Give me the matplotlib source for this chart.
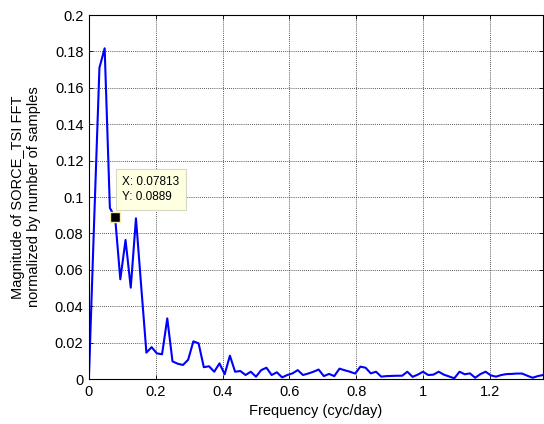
import numpy as np
import matplotlib
matplotlib.use('Agg')
from matplotlib import pyplot as plt

plt.rcParams['font.family'] = ['Liberation Sans', 'DejaVu Sans']

# frequency step of the FFT (cyc/day)
df = 1.0 / 64
# magnitude values, one per frequency bin
mag = [0.002, 0.088, 0.171, 0.1817, 0.094, 0.0889, 0.0548, 0.0764, 0.0502, 0.0883,
       0.051, 0.0145, 0.0175, 0.0141, 0.0136, 0.0333, 0.0097, 0.0084, 0.0077, 0.0106,
       0.0207, 0.0196, 0.0065, 0.007, 0.004, 0.0086, 0.0026, 0.0128, 0.004, 0.0044,
       0.0022, 0.004, 0.0013, 0.0049, 0.0062, 0.0022, 0.0037, 0.0009, 0.0022, 0.0031,
       0.0049, 0.0022, 0.003, 0.004, 0.0052, 0.0016, 0.0028, 0.0016, 0.0057, 0.0048,
       0.004, 0.003, 0.0068, 0.0062, 0.0031, 0.004, 0.0013, 0.0016, 0.0017, 0.0018,
       0.0018, 0.004, 0.0012, 0.0024, 0.004, 0.0022, 0.0024, 0.004, 0.0024, 0.0014,
       0.0004, 0.004, 0.0026, 0.0031, 0.0007, 0.0027, 0.004, 0.002, 0.0013, 0.0022,
       0.0027, 0.0028, 0.003, 0.003, 0.0018, 0.0007, 0.0016, 0.0022]
freq = np.arange(len(mag)) * df

xticks = [0, 0.2, 0.4, 0.6, 0.8, 1, 1.2]
yticks = [0, 0.02, 0.04, 0.06, 0.08, 0.1, 0.12, 0.14, 0.16, 0.18, 0.2]
tip_idx = 5  # data cursor point

fig = plt.figure(figsize=(5.44, 4.24), dpi=100)
ax = fig.add_axes([0.1636, 0.1061, 0.8346, 0.8585])

ax.plot(freq, mag, color='#0000ff', linewidth=1.5)
ax.set_xlim(0, freq[-1])
ax.set_ylim(0, 0.2)
ax.set_xticks(xticks)
ax.set_xticklabels(['0', '0.2', '0.4', '0.6', '0.8', '1', '1.2'])
ax.set_yticks(yticks)
ax.set_yticklabels(['0', '0.02', '0.04', '0.06', '0.08', '0.1', '0.12', '0.14',
                    '0.16', '0.18', '0.2'])
ax.tick_params(direction='in', top=True, right=True, labelsize=10.5, length=3,
               width=0.6, pad=4)
ax.grid(True, linestyle=(0, (1, 1.5)), color='#222222', linewidth=0.6)
for s in ax.spines.values():
    s.set_linewidth(0.8)

ax.set_xlabel('Frequency (cyc/day)', fontsize=10.5, labelpad=4)
ax.set_ylabel('Magnitude of SORCE_TSI FFT\nnormalized by number of samples',
              fontsize=10.5, labelpad=10)

# data tip
tx, ty = freq[tip_idx], mag[tip_idx]
ax.plot([tx], [ty], marker='s', markersize=7, color='black',
        markeredgecolor='#f2eeb0', markeredgewidth=1, zorder=5)
ax.annotate('X: %.5f\nY: %.4g' % (tx + 1e-12, ty), xy=(tx, ty), xytext=(5, 10),
            textcoords='offset points', fontsize=8.5, va='bottom', ha='left',
            linespacing=1.4,
            bbox=dict(boxstyle='square,pad=0.55', fc='#ffffe1', ec='#d8d8c0', lw=0.8),
            zorder=6)

fig.savefig('out.png', dpi=100)
